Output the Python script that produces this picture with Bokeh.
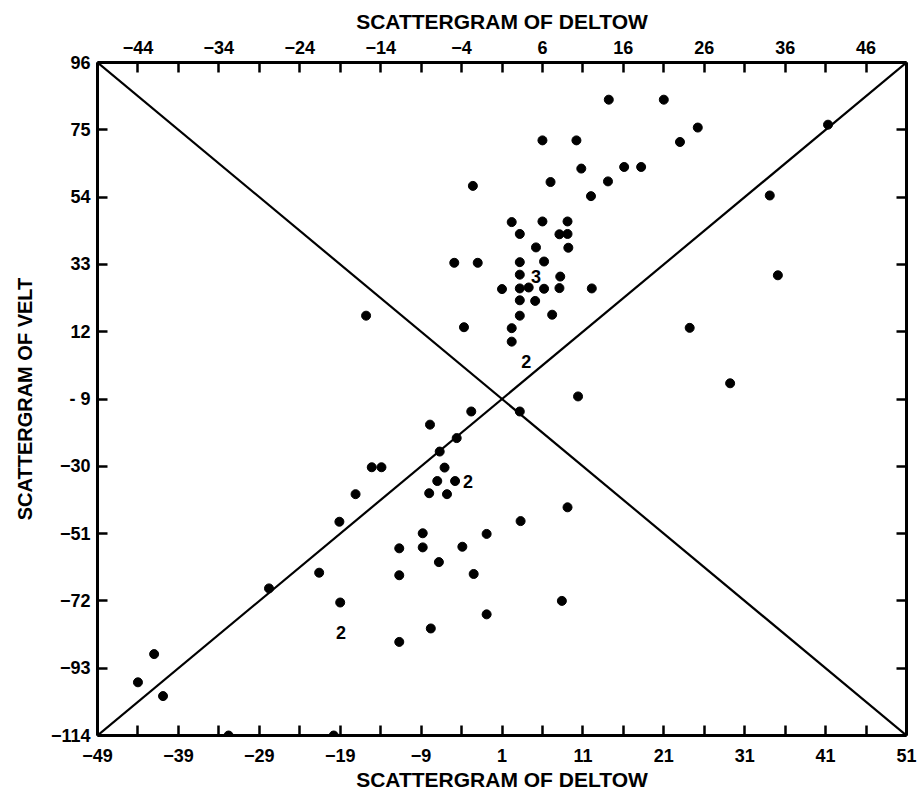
from bokeh.plotting import figure
from bokeh.models import Range1d, LinearAxis, FixedTicker, ColumnDataSource
from bokeh.core.properties import value
from bokeh.embed import file_html
from bokeh.resources import INLINE

# ---- data ----
X_MIN, X_MAX = -49, 51
Y_MIN, Y_MAX = -114, 96

bottom_ticks = [-49, -39, -29, -19, -9, 1, 11, 21, 31, 41, 51]
top_ticks = [-44, -34, -24, -14, -4, 6, 16, 26, 36, 46]
y_ticks = [-114, -93, -72, -51, -30, -9, 12, 33, 54, 75, 96]

x_label = "SCATTERGRAM OF DELTOW"
y_label = "SCATTERGRAM OF VELT"

deltow = [-2.6, -4.9, -2.0, 1.0, -15.8, -3.7, 14.2, 21.0, 25.2, 41.3,
          6.0, 10.2, 23.0, 10.8, 16.1, 18.2, 7.0, 14.1, 12.0, 34.1,
          2.2, 6.0, 9.1, 3.2, 8.1, 9.1, 5.2, 9.2, 3.2, 6.2,
          3.2, 8.2, 35.1, 3.2, 4.3, 6.2, 8.1, 12.1, 3.2, 5.1,
          3.2, 7.2, 2.2, 24.2, 2.2, 29.2, 10.4, 3.2, 9.1, 3.3,
          8.4, -2.8, -7.9, -4.6, -6.7, -15.1, -13.9, -6.1, -7.0, -4.8,
          -17.1, -8.0, -5.8, -19.1, -8.8, -0.9, -11.7, -8.8, -3.9, -6.8,
          -21.6, -11.7, -2.5, -27.8, -19.0, -0.9, -7.8, -11.7, -42.0, -44.0,
          -40.9, -32.8, -19.8]
velt = [57.5, 33.5, 33.5, 25.3, 17.0, 13.4, 84.4, 84.4, 75.7, 76.6,
        71.7, 71.7, 71.2, 62.9, 63.4, 63.4, 58.7, 58.9, 54.3, 54.5,
        46.2, 46.4, 46.4, 42.5, 42.4, 42.5, 38.3, 38.2, 33.7, 33.9,
        29.8, 29.2, 29.6, 25.5, 25.8, 25.4, 25.6, 25.5, 21.8, 21.6,
        17.0, 17.3, 13.1, 13.2, 8.9, -4.1, -8.2, -12.9, -42.8, -47.1,
        -72.0, -12.9, -17.0, -21.2, -25.4, -30.3, -30.3, -30.4, -34.6, -34.6,
        -38.7, -38.4, -38.7, -47.3, -50.9, -51.1, -55.6, -55.3, -55.1, -59.9,
        -63.2, -64.0, -63.6, -68.1, -72.5, -76.2, -80.6, -84.8, -88.6, -97.4,
        -101.7, -114.0, -114.0]

count_x = [5.2, 4.0, -3.2, -18.9]
count_y = [29.1, 2.8, -34.8, -81.9]
count_txt = ["3", "2", "2", "2"]

diag_x = [X_MIN, X_MAX]
diag_down = [Y_MAX, Y_MIN]
diag_up = [Y_MIN, Y_MAX]

FONT = "Liberation Sans"

p = figure(frame_width=809, frame_height=673,
           x_range=Range1d(X_MIN, X_MAX), y_range=Range1d(Y_MIN, Y_MAX),
           output_backend="svg", toolbar_location=None,
           x_axis_location=None, y_axis_location=None,
           min_border_left=97, min_border_right=11,
           min_border_top=62, min_border_bottom=61)
p.grid.grid_line_color = None
p.outline_line_color = None
p.background_fill_color = "white"
p.border_fill_color = "white"


def style(ax):
    ax.axis_line_width = 3
    ax.axis_line_color = "black"
    ax.major_tick_in = 10
    ax.major_tick_out = 0
    ax.minor_tick_in = 10
    ax.minor_tick_out = 0
    ax.major_tick_line_width = 2.5
    ax.minor_tick_line_width = 2.5
    ax.major_tick_line_color = "black"
    ax.minor_tick_line_color = "black"
    ax.major_label_text_font = FONT
    ax.major_label_text_font_size = "18px"
    ax.major_label_text_font_style = "bold"
    ax.major_label_text_color = "black"
    ax.axis_label_text_font = FONT
    ax.axis_label_text_font_size = "21px"
    ax.axis_label_text_font_style = "bold"
    ax.axis_label_text_color = "black"


bottom = LinearAxis(ticker=FixedTicker(ticks=bottom_ticks, minor_ticks=top_ticks),
                    axis_label=x_label)
style(bottom)
bottom.major_label_standoff = 13
bottom.axis_label_standoff = 3
p.add_layout(bottom, "below")

top = LinearAxis(ticker=FixedTicker(ticks=top_ticks, minor_ticks=bottom_ticks),
                 axis_label=x_label)
style(top)
top.major_label_standoff = 9
top.axis_label_standoff = 5
p.add_layout(top, "above")

left = LinearAxis(ticker=FixedTicker(ticks=y_ticks), axis_label=y_label,
                  major_label_overrides={-9: "- 9"})
style(left)
left.major_label_standoff = 7
left.axis_label_standoff = 12
left.axis_label_text_font_size = "20px"
p.add_layout(left, "left")

right = LinearAxis(ticker=FixedTicker(ticks=y_ticks),
                   major_label_overrides={t: "" for t in y_ticks})
style(right)
right.major_label_standoff = 0
p.add_layout(right, "right")

p.line(diag_x, diag_down, line_color="black", line_width=2.2)
p.line(diag_x, diag_up, line_color="black", line_width=2.2)

src = ColumnDataSource(dict(x=deltow, y=velt))
p.scatter("x", "y", source=src, size=9, color="black")

csrc = ColumnDataSource(dict(x=count_x, y=count_y, t=count_txt))
p.text("x", "y", text="t", source=csrc, text_font=value(FONT),
       text_font_style="bold", text_font_size="18px",
       text_align="center", text_baseline="middle", text_color="black")

open("out.html", "w").write(file_html(p, INLINE))
